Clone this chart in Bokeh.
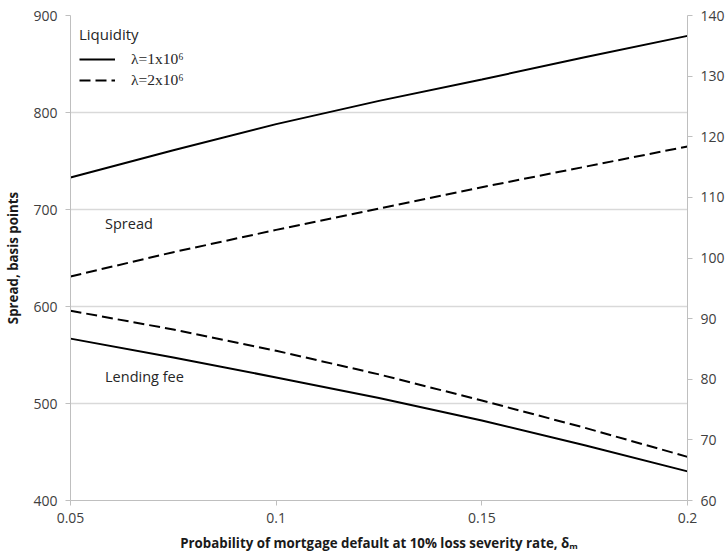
from bokeh.plotting import figure
from bokeh.models import (Range1d, LinearAxis, FixedTicker, NumeralTickFormatter,
                          Legend, LegendItem, Label)
from bokeh.embed import file_html
from bokeh.resources import INLINE

# Probability of mortgage default (10% loss severity)
delta_m = [0.05, 0.075, 0.1, 0.125, 0.15, 0.175, 0.2]

# Spread, basis points (left axis)
spread_l1 = [733, 761, 788, 812, 834, 857, 879]
spread_l2 = [631, 656, 679, 701, 723, 744, 765]

# Lending fee (right axis)
fee_l1 = [86.7, 83.6, 80.3, 76.9, 73.2, 69.1, 64.8]
fee_l2 = [91.3, 88.2, 84.7, 80.8, 76.5, 72.0, 67.2]

x_ticks = [0.05, 0.1, 0.15, 0.2]
left_ticks = [400, 500, 600, 700, 800, 900]
right_ticks = [60, 70, 80, 90, 100, 110, 120, 130, 140]

legend_title = "Liquidity"
legend_labels = ["λ=1x10⁶", "λ=2x10⁶"]

SANS = "Open Sans"
TICK_COLOR = "#404040"
GRID = "#d9d9d9"
AXIS = "#bfbfbf"

p = figure(width=727, height=559, output_backend="svg", toolbar_location=None,
           x_range=Range1d(0.05, 0.2), y_range=Range1d(400, 900),
           min_border_left=70, min_border_right=38, min_border_top=15,
           min_border_bottom=59)
p.outline_line_color = None
p.background_fill_color = "white"
p.border_fill_color = "white"

p.extra_y_ranges = {"fee": Range1d(60, 140)}

xaxis = p.xaxis[0]
yaxis = p.yaxis[0]

# axes
xaxis.ticker = FixedTicker(ticks=x_ticks)
xaxis.formatter = NumeralTickFormatter(format="0.0[0]")
yaxis.ticker = FixedTicker(ticks=left_ticks)
xaxis.axis_label = "Probability of mortgage default at 10% loss severity rate, δₘ"
yaxis.axis_label = "Spread, basis points"

right = LinearAxis(y_range_name="fee", ticker=FixedTicker(ticks=right_ticks))
p.add_layout(right, "right")

for ax in [xaxis, yaxis, right]:
    ax.axis_line_color = AXIS
    ax.major_tick_line_color = AXIS
    ax.major_tick_in = 0
    ax.major_tick_out = 5
    ax.minor_tick_line_color = None
    ax.major_label_text_font = SANS
    ax.major_label_text_font_size = "14px"
    ax.major_label_text_color = TICK_COLOR
    ax.major_label_standoff = 8

xaxis.major_label_standoff = 7
for ax in [xaxis, yaxis]:
    ax.axis_label_text_font = SANS
    ax.axis_label_text_font_style = "bold"
    ax.axis_label_text_font_size = "13.3px"
    ax.axis_label_text_color = "#1a1a1a"
    ax.axis_label_standoff = 8

p.xgrid.grid_line_color = None
p.ygrid.grid_line_color = GRID
p.ygrid.grid_line_width = 1.5

# series
s1 = p.line(delta_m, spread_l1, line_color="black", line_width=2)
s2 = p.line(delta_m, spread_l2, line_color="black", line_width=2, line_dash="11 5")
p.line(delta_m, fee_l1, line_color="black", line_width=2, y_range_name="fee")
p.line(delta_m, fee_l2, line_color="black", line_width=2, line_dash="11 5",
       y_range_name="fee")

legend = Legend(items=[LegendItem(label=legend_labels[0], renderers=[s1]),
                       LegendItem(label=legend_labels[1], renderers=[s2])],
                location="top_left", title=legend_title,
                title_text_font=SANS, title_text_font_size="15px",
                title_text_font_style="normal", title_text_color="#262626",
                title_standoff=6,
                label_text_font="Liberation Serif", label_text_font_size="15.5px",
                label_text_color="#262626",
                glyph_width=36, glyph_height=14, label_standoff=16,
                spacing=3, padding=6, margin=9,
                border_line_color=None, background_fill_alpha=0)
p.add_layout(legend)

for txt, xv, yv in [("Spread", 0.0584, 686), ("Lending fee", 0.0584, 528)]:
    p.add_layout(Label(x=xv, y=yv, text=txt, text_font=SANS, text_font_size="14.5px",
                       text_color="#262626", text_baseline="middle"))

open("out.html", "w").write(file_html(p, INLINE))
